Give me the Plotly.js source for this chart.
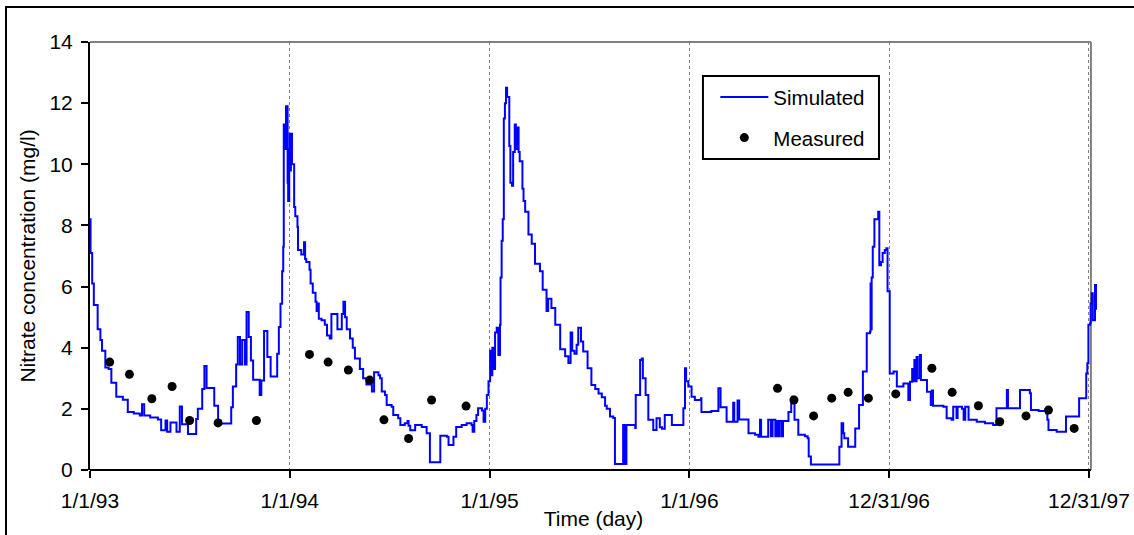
<!DOCTYPE html>
<html><head><meta charset="utf-8">
<script src="https://cdn.plot.ly/plotly-3.0.1.min.js"></script>
<style>
html,body{margin:0;padding:0;background:#fff;overflow:hidden}
#chart{position:absolute;left:0;top:0;width:1134px;height:535px}
#frame{position:absolute;left:5px;top:6px;width:1140px;height:540px;border:2px solid #000;pointer-events:none;z-index:5}
</style></head><body>
<div id="chart"></div><div id="frame"></div>
<script>
// Simulated nitrate (mg/l): [day since 1/1/93, value], step changes
const sim1993 = [[0,8.2],[1,7.1],[4,6.1],[7,5.4],[14,4.6],[19,4.25],[22,3.9],[28,3.35],[34,3.3],[39,2.85],[48,2.4],[60,2.3],[69,1.9],[80,1.85],[91,1.78],[95,2.15],[99,1.78],[110,1.72],[124,1.65],[130,1.3],[138,1.62],[141,1.25],[147,1.55],[158,1.25],[164,2.08],[168,1.5],[179,1.18],[194,1.67],[197,2.0],[205,2.65],[209,3.4],[213,2.68],[227,2.1],[234,1.62],[239,1.52],[258,2.05],[261,2.73],[267,3.45],[270,4.35],[274,3.45],[278,4.25],[283,3.45],[286,5.17],[290,4.35],[294,3.58],[298,2.95],[310,2.45],[313,2.93],[318,4.55],[324,3.7],[330,3.06],[342,3.8],[345,4.68],[348,5.44],[351,6.5],[353,7.3],[354,11.3],[356,10.5],[358,11.9],[361,9.4],[362,8.8],[364,10.5]];
const sim1994 = [[365,11.0],[366,9.8],[367,11.0],[369,10.0],[373,8.6],[375,8.3],[379,7.95],[380,7.2],[386,7.05],[391,7.45],[393,6.9],[395,6.8],[401,6.55],[403,6.1],[407,5.8],[412,5.5],[414,5.2],[416,5.45],[418,4.95],[423,4.9],[429,4.75],[433,4.4],[438,4.3],[441,5.1],[450,5.1],[452,4.6],[458,4.6],[460,5.1],[463,5.5],[466,5.0],[469,4.6],[475,4.3],[480,4.0],[484,3.65],[493,3.3],[499,3.0],[505,2.8],[515,2.57],[519,3.2],[527,3.1],[530,3.0],[533,2.57],[539,2.45],[542,2.13],[551,2.07],[554,1.8],[563,1.69],[567,1.47],[575,1.53],[580,1.6],[582,1.45],[585,1.3],[594,1.47],[606,1.41],[615,1.2],[621,0.25],[640,1.12],[652,1.09],[655,0.82],[664,1.09],[669,1.41],[679,1.47],[688,1.53],[697,1.47],[699,1.25],[702,1.6],[706,1.8],[709,2.02],[716,1.95],[719,1.58],[722,2.0],[725,2.45],[728,2.9]];
const sim1995 = [[731,3.9],[733,3.1],[735,4.0],[737,3.3],[740,4.5],[743,4.65],[746,3.76],[749,4.75],[750,6.3],[752,7.5],[754,8.2],[756,11.5],[758,12.0],[760,12.5],[762,12.2],[766,10.6],[768,9.4],[771,9.3],[773,10.4],[776,11.3],[778,10.5],[781,11.2],[783,10.4],[785,10.1],[790,9.2],[792,8.8],[795,8.45],[801,7.7],[807,7.4],[813,6.75],[822,6.5],[827,5.9],[834,5.2],[837,5.6],[843,5.3],[850,4.75],[859,3.95],[868,3.72],[874,3.5],[878,4.5],[881,3.9],[885,3.8],[889,4.1],[892,4.65],[897,4.2],[901,3.88],[909,3.33],[916,2.78],[923,2.65],[929,2.5],[935,2.38],[941,2.1],[944,2.0],[950,1.75],[956,1.7],[959,0.2],[974,1.47],[977,0.2],[980,1.47],[996,1.37],[997,2.45],[1005,3.6],[1008,3.65],[1010,3.0],[1015,2.45],[1020,1.64],[1029,1.31],[1035,1.69],[1041,1.4],[1045,1.35],[1050,1.8],[1063,1.47],[1084,2.02],[1087,3.33],[1089,2.9]];
const sim1996 = [[1093,2.73],[1099,2.4],[1105,2.29],[1116,2.35],[1117,1.9],[1135,1.93],[1148,2.67],[1152,2.05],[1163,1.58],[1175,2.2],[1177,1.58],[1183,2.27],[1186,1.65],[1203,1.2],[1215,1.15],[1221,1.09],[1224,1.64],[1226,1.09],[1239,1.64],[1244,1.1],[1247,1.64],[1252,1.1],[1254,1.6],[1257,1.1],[1259,1.6],[1263,1.1],[1266,1.6],[1276,1.9],[1281,2.18],[1283,2.4],[1287,1.64],[1294,1.15],[1306,1.1],[1311,1.04],[1313,0.44],[1317,0.18],[1367,0.18],[1369,0.76],[1373,1.53],[1376,1.2],[1378,1.04],[1385,0.76],[1398,1.36],[1405,2.13],[1412,3.22],[1419,4.47],[1425,4.53],[1426,6.1],[1427,4.6],[1428,6.3],[1430,7.3],[1433,8.2],[1440,8.45],[1442,6.7],[1445,6.8],[1448,7.1],[1452,7.2],[1455,7.25],[1457,5.85]];
const sim1997 = [[1461,3.16],[1468,3.22],[1474,2.73],[1486,2.83],[1495,2.29],[1498,2.89],[1502,3.3],[1504,2.9],[1506,3.6],[1508,2.9],[1510,3.7],[1512,3.0],[1516,3.76],[1518,2.94],[1529,2.56],[1536,2.13],[1538,2.6],[1540,2.1],[1559,2.07],[1565,1.69],[1574,1.64],[1577,2.07],[1583,1.7],[1585,2.07],[1593,2.0],[1596,1.64],[1599,2.07],[1605,1.64],[1620,1.58],[1635,1.53],[1650,1.47],[1656,2.02],[1672,2.02],[1675,2.62],[1677,2.02],[1699,2.62],[1717,2.51],[1719,1.96],[1733,1.93],[1747,1.85],[1749,1.64],[1751,1.31],[1766,1.25],[1783,1.75],[1807,2.35],[1820,3.16],[1822,3.49],[1824,4.75],[1827,4.8],[1828,5.45],[1830,5.78],[1832,4.9],[1836,6.05],[1839,5.24]];

// Measured nitrate (mg/l)
const measuredDays = [36,72,113,150,182,234,304,401,435,472,511,537,582,624,687,1256,1286,1322,1355,1385,1422,1472,1538,1575,1623,1662,1710,1751,1798];
const measuredValues = [3.53,3.13,2.33,2.73,1.62,1.54,1.62,3.78,3.53,3.27,2.94,1.64,1.03,2.29,2.09,2.67,2.29,1.77,2.35,2.54,2.35,2.49,3.33,2.54,2.1,1.58,1.77,1.96,1.36];

// Axis ticks
const tickDates = ['1993-01-01','1994-01-01','1995-01-01','1996-01-01','1996-12-31','1997-12-31'];
const tickLabels = ['1/1/93','1/1/94','1/1/95','1/1/96','12/31/96','12/31/97'];
const axisEnd = '1998-01-03 14:00';      // end of the drawn plot frame
const rangeEnd = '1998-01-14 16:00';     // simulated line runs a little past the frame

const base = Date.UTC(1993,0,1);
const toDate = d => new Date(base + d*86400000).toISOString().slice(0,10);
const sim = [].concat(sim1993, sim1994, sim1995, sim1996, sim1997);

const FONT = 'Arial, "Liberation Sans", sans-serif';

const traces = [
  {x: sim.map(p=>toDate(p[0])), y: sim.map(p=>p[1]), type:'scatter', mode:'lines',
   name:'Simulated', legendgroup:'a', line:{color:'#0000FF', width:2, shape:'hv'}},
  {x: measuredDays.map(toDate), y: measuredValues, type:'scatter', mode:'markers',
   name:'Measured', legendgroup:'b', marker:{color:'#000', size:9}}
];

const layout = {
  width:1134, height:535,
  margin:{l:90, r:37, t:42, b:65},
  paper_bgcolor:'#fff', plot_bgcolor:'rgba(0,0,0,0)',
  font:{family:FONT, size:21, color:'#000'},
  showlegend:true,
  legend:{x:0.621, y:0.918, xanchor:'left', yanchor:'top', bgcolor:'rgba(0,0,0,0)', borderwidth:0,
          font:{size:20.5}, itemwidth:48, tracegroupgap:11},
  xaxis:{type:'date', range:['1993-01-01', rangeEnd], tickmode:'array', tickvals:tickDates, ticktext:tickLabels,
         ticks:'outside', ticklen:7, tickwidth:2, tickcolor:'#000', showline:false,
         showgrid:true, gridcolor:'#808080', griddash:'dot', gridwidth:1, zeroline:false, ticklabelstandoff:5,
         tickfont:{size:21}, title:{text:'Time (day)', font:{size:21}, standoff:0}, fixedrange:true},
  yaxis:{range:[0,14], tick0:0, dtick:2, ticks:'outside', ticklen:7, tickwidth:2, tickcolor:'#000',
         showline:true, linecolor:'#000', linewidth:2, showgrid:false, zeroline:false, ticklabelstandoff:4,
         tickfont:{size:21}, title:{text:'Nitrate concentration (mg/l)', font:{size:21}, standoff:8}, fixedrange:true},
  shapes:[
    {type:'line', xref:'x', yref:'paper', x0:'1993-01-01', x1:axisEnd, y0:1, y1:1, line:{color:'#808080', width:2}, layer:'below'},
    {type:'line', xref:'x', yref:'paper', x0:axisEnd, x1:axisEnd, y0:0, y1:1, line:{color:'#808080', width:2}, layer:'below'},
    {type:'line', xref:'x', yref:'paper', x0:'1993-01-01', x1:axisEnd, y0:0, y1:0, line:{color:'#000', width:2}, layer:'above'},
    {type:'rect', xref:'paper', yref:'paper', x0:0.6087, x1:0.7835, y0:0.7266, y1:0.9206,
     line:{color:'#000', width:2}, fillcolor:'#fff', layer:'above'}
  ]
};

Plotly.newPlot('chart', traces, layout, {staticPlot:true, displayModeBar:false});
</script></body></html>
